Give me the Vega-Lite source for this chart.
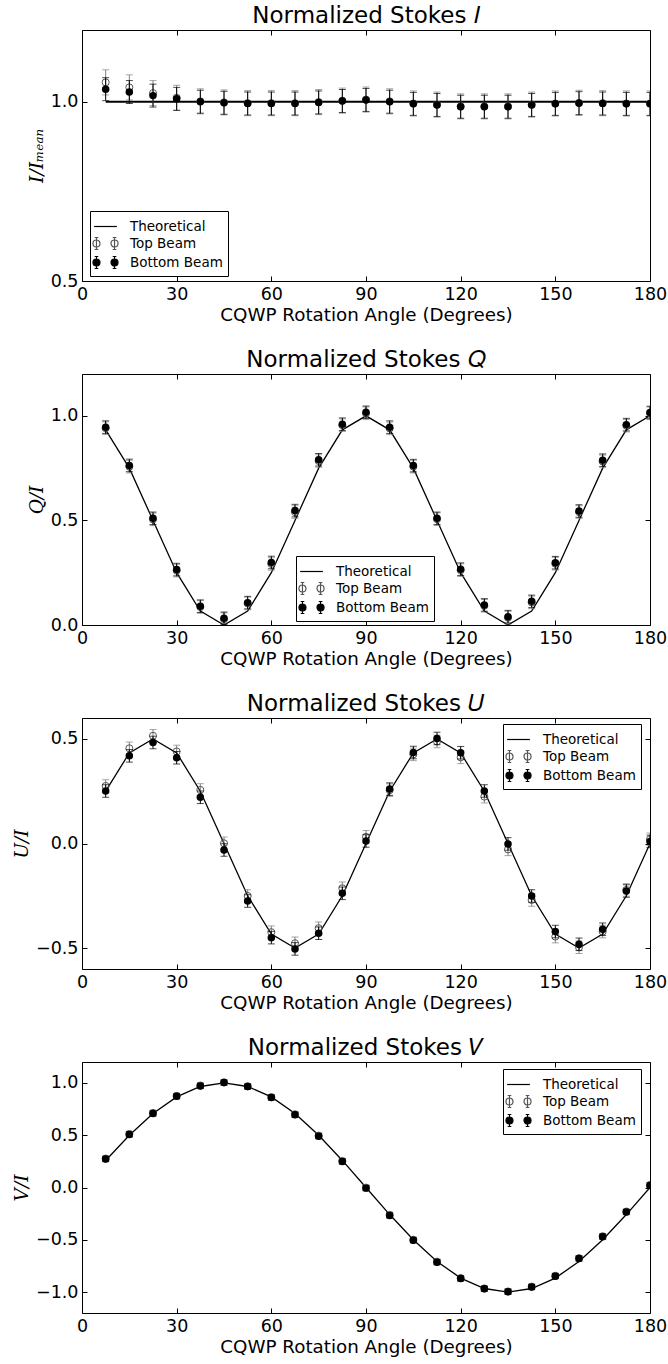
{
  "$schema": "https://vega.github.io/schema/vega-lite/v6.json",
  "padding": {"left": 12, "top": 4, "right": 5, "bottom": 2},
  "background": "white",
  "datasets": {
    "legend": [{"series": "Theoretical"}, {"series": "Top Beam"}, {"series": "Bottom Beam"}],
    "I": [
      {"angle": 7.5, "theory": 1, "top": 1.054, "top_err": 0.035, "bottom": 1.035, "bottom_err": 0.032},
      {"angle": 15, "theory": 1, "top": 1.040, "top_err": 0.035, "bottom": 1.027, "bottom_err": 0.032},
      {"angle": 22.5, "theory": 1, "top": 1.024, "top_err": 0.035, "bottom": 1.017, "bottom_err": 0.032},
      {"angle": 30, "theory": 1, "top": 1.011, "top_err": 0.035, "bottom": 1.008, "bottom_err": 0.032},
      {"angle": 37.5, "theory": 1, "top": 1.001, "top_err": 0.035, "bottom": 1.000, "bottom_err": 0.032},
      {"angle": 45, "theory": 1, "top": 0.998, "top_err": 0.035, "bottom": 0.997, "bottom_err": 0.032},
      {"angle": 52.5, "theory": 1, "top": 0.996, "top_err": 0.035, "bottom": 0.995, "bottom_err": 0.032},
      {"angle": 60, "theory": 1, "top": 0.996, "top_err": 0.035, "bottom": 0.995, "bottom_err": 0.032},
      {"angle": 67.5, "theory": 1, "top": 0.996, "top_err": 0.035, "bottom": 0.995, "bottom_err": 0.032},
      {"angle": 75, "theory": 1, "top": 0.999, "top_err": 0.035, "bottom": 0.998, "bottom_err": 0.032},
      {"angle": 82.5, "theory": 1, "top": 1.003, "top_err": 0.035, "bottom": 1.002, "bottom_err": 0.032},
      {"angle": 90, "theory": 1, "top": 1.006, "top_err": 0.035, "bottom": 1.005, "bottom_err": 0.032},
      {"angle": 97.5, "theory": 1, "top": 1.001, "top_err": 0.035, "bottom": 1.000, "bottom_err": 0.032},
      {"angle": 105, "theory": 1, "top": 0.995, "top_err": 0.035, "bottom": 0.994, "bottom_err": 0.032},
      {"angle": 112.5, "theory": 1, "top": 0.992, "top_err": 0.035, "bottom": 0.991, "bottom_err": 0.032},
      {"angle": 120, "theory": 1, "top": 0.987, "top_err": 0.035, "bottom": 0.986, "bottom_err": 0.032},
      {"angle": 127.5, "theory": 1, "top": 0.987, "top_err": 0.035, "bottom": 0.986, "bottom_err": 0.032},
      {"angle": 135, "theory": 1, "top": 0.987, "top_err": 0.035, "bottom": 0.986, "bottom_err": 0.032},
      {"angle": 142.5, "theory": 1, "top": 0.992, "top_err": 0.035, "bottom": 0.991, "bottom_err": 0.032},
      {"angle": 150, "theory": 1, "top": 0.995, "top_err": 0.035, "bottom": 0.994, "bottom_err": 0.032},
      {"angle": 157.5, "theory": 1, "top": 0.997, "top_err": 0.035, "bottom": 0.996, "bottom_err": 0.032},
      {"angle": 165, "theory": 1, "top": 0.996, "top_err": 0.035, "bottom": 0.995, "bottom_err": 0.032},
      {"angle": 172.5, "theory": 1, "top": 0.995, "top_err": 0.035, "bottom": 0.994, "bottom_err": 0.032},
      {"angle": 180, "theory": 1, "top": 0.995, "top_err": 0.035, "bottom": 0.994, "bottom_err": 0.032}
    ],
    "Q": [
      {"angle": 7.5, "theory": 0.933, "top": 0.941, "top_err": 0.03, "bottom": 0.946, "bottom_err": 0.03},
      {"angle": 15, "theory": 0.75, "top": 0.757, "top_err": 0.03, "bottom": 0.763, "bottom_err": 0.03},
      {"angle": 22.5, "theory": 0.5, "top": 0.505, "top_err": 0.03, "bottom": 0.510, "bottom_err": 0.03},
      {"angle": 30, "theory": 0.25, "top": 0.260, "top_err": 0.03, "bottom": 0.265, "bottom_err": 0.03},
      {"angle": 37.5, "theory": 0.067, "top": 0.086, "top_err": 0.03, "bottom": 0.090, "bottom_err": 0.03},
      {"angle": 45, "theory": 0, "top": 0.028, "top_err": 0.03, "bottom": 0.032, "bottom_err": 0.03},
      {"angle": 52.5, "theory": 0.067, "top": 0.103, "top_err": 0.03, "bottom": 0.107, "bottom_err": 0.03},
      {"angle": 60, "theory": 0.25, "top": 0.292, "top_err": 0.03, "bottom": 0.299, "bottom_err": 0.03},
      {"angle": 67.5, "theory": 0.5, "top": 0.540, "top_err": 0.03, "bottom": 0.547, "bottom_err": 0.03},
      {"angle": 75, "theory": 0.75, "top": 0.784, "top_err": 0.03, "bottom": 0.790, "bottom_err": 0.03},
      {"angle": 82.5, "theory": 0.933, "top": 0.955, "top_err": 0.03, "bottom": 0.960, "bottom_err": 0.03},
      {"angle": 90, "theory": 1, "top": 1.012, "top_err": 0.03, "bottom": 1.017, "bottom_err": 0.03},
      {"angle": 97.5, "theory": 0.933, "top": 0.940, "top_err": 0.03, "bottom": 0.946, "bottom_err": 0.03},
      {"angle": 105, "theory": 0.75, "top": 0.757, "top_err": 0.03, "bottom": 0.762, "bottom_err": 0.03},
      {"angle": 112.5, "theory": 0.5, "top": 0.506, "top_err": 0.03, "bottom": 0.510, "bottom_err": 0.03},
      {"angle": 120, "theory": 0.25, "top": 0.262, "top_err": 0.03, "bottom": 0.267, "bottom_err": 0.03},
      {"angle": 127.5, "theory": 0.067, "top": 0.092, "top_err": 0.03, "bottom": 0.096, "bottom_err": 0.03},
      {"angle": 135, "theory": 0, "top": 0.035, "top_err": 0.03, "bottom": 0.040, "bottom_err": 0.03},
      {"angle": 142.5, "theory": 0.067, "top": 0.108, "top_err": 0.03, "bottom": 0.113, "bottom_err": 0.03},
      {"angle": 150, "theory": 0.25, "top": 0.293, "top_err": 0.03, "bottom": 0.298, "bottom_err": 0.03},
      {"angle": 157.5, "theory": 0.5, "top": 0.540, "top_err": 0.03, "bottom": 0.545, "bottom_err": 0.03},
      {"angle": 165, "theory": 0.75, "top": 0.782, "top_err": 0.03, "bottom": 0.788, "bottom_err": 0.03},
      {"angle": 172.5, "theory": 0.933, "top": 0.953, "top_err": 0.03, "bottom": 0.958, "bottom_err": 0.03},
      {"angle": 180, "theory": 1, "top": 1.012, "top_err": 0.03, "bottom": 1.016, "bottom_err": 0.03}
    ],
    "U": [
      {"angle": 7.5, "theory": 0.25, "top": 0.275, "top_err": 0.03, "bottom": 0.251, "bottom_err": 0.03},
      {"angle": 15, "theory": 0.433, "top": 0.455, "top_err": 0.03, "bottom": 0.419, "bottom_err": 0.03},
      {"angle": 22.5, "theory": 0.5, "top": 0.515, "top_err": 0.03, "bottom": 0.483, "bottom_err": 0.03},
      {"angle": 30, "theory": 0.433, "top": 0.440, "top_err": 0.03, "bottom": 0.410, "bottom_err": 0.03},
      {"angle": 37.5, "theory": 0.25, "top": 0.256, "top_err": 0.03, "bottom": 0.221, "bottom_err": 0.03},
      {"angle": 45, "theory": 0, "top": 0.001, "top_err": 0.03, "bottom": -0.031, "bottom_err": 0.03},
      {"angle": 52.5, "theory": -0.25, "top": -0.251, "top_err": 0.03, "bottom": -0.275, "bottom_err": 0.03},
      {"angle": 60, "theory": -0.433, "top": -0.424, "top_err": 0.03, "bottom": -0.450, "bottom_err": 0.03},
      {"angle": 67.5, "theory": -0.5, "top": -0.477, "top_err": 0.03, "bottom": -0.504, "bottom_err": 0.03},
      {"angle": 75, "theory": -0.433, "top": -0.405, "top_err": 0.03, "bottom": -0.429, "bottom_err": 0.03},
      {"angle": 82.5, "theory": -0.25, "top": -0.214, "top_err": 0.03, "bottom": -0.238, "bottom_err": 0.03},
      {"angle": 90, "theory": 0, "top": 0.032, "top_err": 0.03, "bottom": 0.012, "bottom_err": 0.03},
      {"angle": 97.5, "theory": 0.25, "top": 0.255, "top_err": 0.03, "bottom": 0.260, "bottom_err": 0.03},
      {"angle": 105, "theory": 0.433, "top": 0.426, "top_err": 0.03, "bottom": 0.435, "bottom_err": 0.03},
      {"angle": 112.5, "theory": 0.5, "top": 0.488, "top_err": 0.03, "bottom": 0.502, "bottom_err": 0.03},
      {"angle": 120, "theory": 0.433, "top": 0.412, "top_err": 0.03, "bottom": 0.434, "bottom_err": 0.03},
      {"angle": 127.5, "theory": 0.25, "top": 0.224, "top_err": 0.03, "bottom": 0.251, "bottom_err": 0.03},
      {"angle": 135, "theory": 0, "top": -0.028, "top_err": 0.03, "bottom": -0.002, "bottom_err": 0.03},
      {"angle": 142.5, "theory": -0.25, "top": -0.270, "top_err": 0.03, "bottom": -0.251, "bottom_err": 0.03},
      {"angle": 150, "theory": -0.433, "top": -0.445, "top_err": 0.03, "bottom": -0.421, "bottom_err": 0.03},
      {"angle": 157.5, "theory": -0.5, "top": -0.496, "top_err": 0.03, "bottom": -0.482, "bottom_err": 0.03},
      {"angle": 165, "theory": -0.433, "top": -0.421, "top_err": 0.03, "bottom": -0.410, "bottom_err": 0.03},
      {"angle": 172.5, "theory": -0.25, "top": -0.222, "top_err": 0.03, "bottom": -0.227, "bottom_err": 0.03},
      {"angle": 180, "theory": 0, "top": 0.020, "top_err": 0.03, "bottom": 0.010, "bottom_err": 0.03}
    ],
    "V": [
      {"angle": 7.5, "theory": 0.2588, "top": 0.277, "top_err": 0.025, "bottom": 0.272, "bottom_err": 0.025},
      {"angle": 15, "theory": 0.5, "top": 0.512, "top_err": 0.025, "bottom": 0.507, "bottom_err": 0.025},
      {"angle": 22.5, "theory": 0.7071, "top": 0.713, "top_err": 0.025, "bottom": 0.708, "bottom_err": 0.025},
      {"angle": 30, "theory": 0.866, "top": 0.876, "top_err": 0.025, "bottom": 0.872, "bottom_err": 0.025},
      {"angle": 37.5, "theory": 0.9659, "top": 0.975, "top_err": 0.025, "bottom": 0.971, "bottom_err": 0.025},
      {"angle": 45, "theory": 1, "top": 1.005, "top_err": 0.025, "bottom": 1.003, "bottom_err": 0.025},
      {"angle": 52.5, "theory": 0.9659, "top": 0.968, "top_err": 0.025, "bottom": 0.965, "bottom_err": 0.025},
      {"angle": 60, "theory": 0.866, "top": 0.864, "top_err": 0.025, "bottom": 0.860, "bottom_err": 0.025},
      {"angle": 67.5, "theory": 0.7071, "top": 0.700, "top_err": 0.025, "bottom": 0.695, "bottom_err": 0.025},
      {"angle": 75, "theory": 0.5, "top": 0.496, "top_err": 0.025, "bottom": 0.491, "bottom_err": 0.025},
      {"angle": 82.5, "theory": 0.2588, "top": 0.253, "top_err": 0.025, "bottom": 0.248, "bottom_err": 0.025},
      {"angle": 90, "theory": 0, "top": -0.001, "top_err": 0.025, "bottom": -0.006, "bottom_err": 0.025},
      {"angle": 97.5, "theory": -0.2588, "top": -0.262, "top_err": 0.025, "bottom": -0.267, "bottom_err": 0.025},
      {"angle": 105, "theory": -0.5, "top": -0.500, "top_err": 0.025, "bottom": -0.505, "bottom_err": 0.025},
      {"angle": 112.5, "theory": -0.7071, "top": -0.709, "top_err": 0.025, "bottom": -0.714, "bottom_err": 0.025},
      {"angle": 120, "theory": -0.866, "top": -0.866, "top_err": 0.025, "bottom": -0.870, "bottom_err": 0.025},
      {"angle": 127.5, "theory": -0.9659, "top": -0.965, "top_err": 0.025, "bottom": -0.969, "bottom_err": 0.025},
      {"angle": 135, "theory": -1, "top": -0.994, "top_err": 0.025, "bottom": -0.997, "bottom_err": 0.025},
      {"angle": 142.5, "theory": -0.9659, "top": -0.948, "top_err": 0.025, "bottom": -0.952, "bottom_err": 0.025},
      {"angle": 150, "theory": -0.866, "top": -0.844, "top_err": 0.025, "bottom": -0.848, "bottom_err": 0.025},
      {"angle": 157.5, "theory": -0.7071, "top": -0.676, "top_err": 0.025, "bottom": -0.680, "bottom_err": 0.025},
      {"angle": 165, "theory": -0.5, "top": -0.466, "top_err": 0.025, "bottom": -0.470, "bottom_err": 0.025},
      {"angle": 172.5, "theory": -0.2588, "top": -0.230, "top_err": 0.025, "bottom": -0.235, "bottom_err": 0.025},
      {"angle": 180, "theory": 0, "top": 0.024, "top_err": 0.025, "bottom": 0.020, "bottom_err": 0.025}
    ]
  },
  "columns": 1,
  "align": "none",
  "spacing": 23,
  "resolve": {
    "scale": {"x": "independent", "y": "independent", "shape": "independent", "fill": "independent", "stroke": "independent"},
    "legend": {"shape": "independent", "fill": "independent", "stroke": "independent"}
  },
  "concat": [
    {
      "width": 568, "height": 251,
      "title": {"text": "Normalized Stokes 𝐼"},
      "data": {"name": "I"},
      "resolve": {"axis": {"x": "independent", "y": "independent"}},
      "layer": [
        {"mark": {"type": "line", "color": "black", "strokeWidth": 2, "clip": true},
         "encoding": {
           "x": {"field": "angle", "type": "quantitative", "scale": {"domain": [0, 180], "nice": false}, "axis": {"values": [0, 30, 60, 90, 120, 150, 180], "title": "CQWP Rotation Angle (Degrees)"}},
           "y": {"field": "theory", "type": "quantitative", "scale": {"domain": [0.5, 1.2], "nice": false, "zero": false}, "axis": {"values": [0.5, 1.0], "format": ".1f", "title": "I/Iₘₑₐₙ"}}}},
        {"mark": {"type": "line", "opacity": 0, "clip": true},
         "encoding": {
           "x": {"field": "angle", "type": "quantitative", "scale": {"domain": [0, 180], "nice": false}, "axis": {"orient": "top", "values": [0, 30, 60, 90, 120, 150, 180], "labels": false, "title": null}},
           "y": {"field": "theory", "type": "quantitative", "scale": {"domain": [0.5, 1.2], "nice": false, "zero": false}, "axis": {"orient": "right", "values": [0.5, 1.0], "labels": false, "title": null}}}},
        {"mark": {"type": "errorbar", "ticks": {"size": 7}, "color": "#808080", "clip": true},
         "encoding": {
           "x": {"field": "angle", "type": "quantitative", "scale": {"domain": [0, 180], "nice": false}, "axis": null},
           "y": {"field": "top", "type": "quantitative", "scale": {"domain": [0.5, 1.2], "nice": false, "zero": false}, "axis": null},
           "yError": {"field": "top_err"}}},
        {"mark": {"type": "point", "shape": "circle", "filled": false, "color": "#555555", "strokeWidth": 1, "size": 50, "opacity": 1, "clip": true},
         "encoding": {
           "x": {"field": "angle", "type": "quantitative", "scale": {"domain": [0, 180], "nice": false}, "axis": null},
           "y": {"field": "top", "type": "quantitative", "scale": {"domain": [0.5, 1.2], "nice": false, "zero": false}, "axis": null}}},
        {"mark": {"type": "errorbar", "ticks": {"size": 7}, "color": "black", "clip": true},
         "encoding": {
           "x": {"field": "angle", "type": "quantitative", "scale": {"domain": [0, 180], "nice": false}, "axis": null},
           "y": {"field": "bottom", "type": "quantitative", "scale": {"domain": [0.5, 1.2], "nice": false, "zero": false}, "axis": null},
           "yError": {"field": "bottom_err"}}},
        {"mark": {"type": "point", "shape": "circle", "filled": true, "color": "black", "size": 56, "opacity": 1, "clip": true},
         "encoding": {
           "x": {"field": "angle", "type": "quantitative", "scale": {"domain": [0, 180], "nice": false}, "axis": null},
           "y": {"field": "bottom", "type": "quantitative", "scale": {"domain": [0.5, 1.2], "nice": false, "zero": false}, "axis": null}}},
        {"data": {"name": "legend"},
         "mark": {"type": "point", "opacity": 0, "filled": true},
         "encoding": {
           "shape": {"field": "series", "type": "nominal", "scale": {"domain": ["Theoretical", "Top Beam", "Bottom Beam"], "range": ["M-1.2,0H1.2", "M-0.95,-0.63V0.63M-1.14,-0.63H-0.76M-1.14,0.63H-0.76M0.95,-0.63V0.63M0.76,-0.63H1.14M0.76,0.63H1.14M-0.58,0A0.37,0.37 0 1 1 -1.32,0A0.37,0.37 0 1 1 -0.58,0M1.32,0A0.37,0.37 0 1 1 0.58,0A0.37,0.37 0 1 1 1.32,0", "M-0.95,-0.63V0.63M-1.14,-0.63H-0.76M-1.14,0.63H-0.76M0.95,-0.63V0.63M0.76,-0.63H1.14M0.76,0.63H1.14M-0.58,0A0.37,0.37 0 1 1 -1.32,0A0.37,0.37 0 1 1 -0.58,0M1.32,0A0.37,0.37 0 1 1 0.58,0A0.37,0.37 0 1 1 1.32,0"]},
             "legend": {"title": null, "orient": "none", "legendX": 8, "legendY": 181}},
           "fill": {"field": "series", "type": "nominal", "scale": {"domain": ["Theoretical", "Top Beam", "Bottom Beam"], "range": ["white", "white", "black"]}, "legend": {"title": null, "orient": "none", "legendX": 8, "legendY": 181}},
           "stroke": {"field": "series", "type": "nominal", "scale": {"domain": ["Theoretical", "Top Beam", "Bottom Beam"], "range": ["black", "#555555", "black"]}, "legend": {"title": null, "orient": "none", "legendX": 8, "legendY": 181}}}}
      ]
    },
    {
      "width": 568, "height": 251,
      "title": {"text": "Normalized Stokes 𝑄"},
      "data": {"name": "Q"},
      "resolve": {"axis": {"x": "independent", "y": "independent"}},
      "layer": [
        {"mark": {"type": "line", "color": "black", "strokeWidth": 1.3, "clip": true},
         "encoding": {
           "x": {"field": "angle", "type": "quantitative", "scale": {"domain": [0, 180], "nice": false}, "axis": {"values": [0, 30, 60, 90, 120, 150, 180], "title": "CQWP Rotation Angle (Degrees)"}},
           "y": {"field": "theory", "type": "quantitative", "scale": {"domain": [0, 1.2], "nice": false, "zero": false}, "axis": {"values": [0, 0.5, 1.0], "format": ".1f", "title": "Q/I"}}}},
        {"mark": {"type": "line", "opacity": 0, "clip": true},
         "encoding": {
           "x": {"field": "angle", "type": "quantitative", "scale": {"domain": [0, 180], "nice": false}, "axis": {"orient": "top", "values": [0, 30, 60, 90, 120, 150, 180], "labels": false, "title": null}},
           "y": {"field": "theory", "type": "quantitative", "scale": {"domain": [0, 1.2], "nice": false, "zero": false}, "axis": {"orient": "right", "values": [0, 0.5, 1.0], "labels": false, "title": null}}}},
        {"mark": {"type": "errorbar", "ticks": {"size": 7}, "color": "#808080", "clip": true},
         "encoding": {
           "x": {"field": "angle", "type": "quantitative", "scale": {"domain": [0, 180], "nice": false}, "axis": null},
           "y": {"field": "top", "type": "quantitative", "scale": {"domain": [0, 1.2], "nice": false, "zero": false}, "axis": null},
           "yError": {"field": "top_err"}}},
        {"mark": {"type": "point", "shape": "circle", "filled": false, "color": "#555555", "strokeWidth": 1, "size": 50, "opacity": 1, "clip": true},
         "encoding": {
           "x": {"field": "angle", "type": "quantitative", "scale": {"domain": [0, 180], "nice": false}, "axis": null},
           "y": {"field": "top", "type": "quantitative", "scale": {"domain": [0, 1.2], "nice": false, "zero": false}, "axis": null}}},
        {"mark": {"type": "errorbar", "ticks": {"size": 7}, "color": "black", "clip": true},
         "encoding": {
           "x": {"field": "angle", "type": "quantitative", "scale": {"domain": [0, 180], "nice": false}, "axis": null},
           "y": {"field": "bottom", "type": "quantitative", "scale": {"domain": [0, 1.2], "nice": false, "zero": false}, "axis": null},
           "yError": {"field": "bottom_err"}}},
        {"mark": {"type": "point", "shape": "circle", "filled": true, "color": "black", "size": 56, "opacity": 1, "clip": true},
         "encoding": {
           "x": {"field": "angle", "type": "quantitative", "scale": {"domain": [0, 180], "nice": false}, "axis": null},
           "y": {"field": "bottom", "type": "quantitative", "scale": {"domain": [0, 1.2], "nice": false, "zero": false}, "axis": null}}},
        {"data": {"name": "legend"},
         "mark": {"type": "point", "opacity": 0, "filled": true},
         "encoding": {
           "shape": {"field": "series", "type": "nominal", "scale": {"domain": ["Theoretical", "Top Beam", "Bottom Beam"], "range": ["M-1.2,0H1.2", "M-0.95,-0.63V0.63M-1.14,-0.63H-0.76M-1.14,0.63H-0.76M0.95,-0.63V0.63M0.76,-0.63H1.14M0.76,0.63H1.14M-0.58,0A0.37,0.37 0 1 1 -1.32,0A0.37,0.37 0 1 1 -0.58,0M1.32,0A0.37,0.37 0 1 1 0.58,0A0.37,0.37 0 1 1 1.32,0", "M-0.95,-0.63V0.63M-1.14,-0.63H-0.76M-1.14,0.63H-0.76M0.95,-0.63V0.63M0.76,-0.63H1.14M0.76,0.63H1.14M-0.58,0A0.37,0.37 0 1 1 -1.32,0A0.37,0.37 0 1 1 -0.58,0M1.32,0A0.37,0.37 0 1 1 0.58,0A0.37,0.37 0 1 1 1.32,0"]},
             "legend": {"title": null, "orient": "none", "legendX": 214, "legendY": 182}},
           "fill": {"field": "series", "type": "nominal", "scale": {"domain": ["Theoretical", "Top Beam", "Bottom Beam"], "range": ["white", "white", "black"]}, "legend": {"title": null, "orient": "none", "legendX": 214, "legendY": 182}},
           "stroke": {"field": "series", "type": "nominal", "scale": {"domain": ["Theoretical", "Top Beam", "Bottom Beam"], "range": ["black", "#555555", "black"]}, "legend": {"title": null, "orient": "none", "legendX": 214, "legendY": 182}}}}
      ]
    },
    {
      "width": 568, "height": 251,
      "title": {"text": "Normalized Stokes 𝑈"},
      "data": {"name": "U"},
      "resolve": {"axis": {"x": "independent", "y": "independent"}},
      "layer": [
        {"mark": {"type": "line", "color": "black", "strokeWidth": 1.3, "clip": true},
         "encoding": {
           "x": {"field": "angle", "type": "quantitative", "scale": {"domain": [0, 180], "nice": false}, "axis": {"values": [0, 30, 60, 90, 120, 150, 180], "title": "CQWP Rotation Angle (Degrees)"}},
           "y": {"field": "theory", "type": "quantitative", "scale": {"domain": [-0.6, 0.6], "nice": false, "zero": false}, "axis": {"values": [-0.5, 0, 0.5], "format": ".1f", "title": "U/I"}}}},
        {"mark": {"type": "line", "opacity": 0, "clip": true},
         "encoding": {
           "x": {"field": "angle", "type": "quantitative", "scale": {"domain": [0, 180], "nice": false}, "axis": {"orient": "top", "values": [0, 30, 60, 90, 120, 150, 180], "labels": false, "title": null}},
           "y": {"field": "theory", "type": "quantitative", "scale": {"domain": [-0.6, 0.6], "nice": false, "zero": false}, "axis": {"orient": "right", "values": [-0.5, 0, 0.5], "labels": false, "title": null}}}},
        {"mark": {"type": "errorbar", "ticks": {"size": 7}, "color": "#808080", "clip": true},
         "encoding": {
           "x": {"field": "angle", "type": "quantitative", "scale": {"domain": [0, 180], "nice": false}, "axis": null},
           "y": {"field": "top", "type": "quantitative", "scale": {"domain": [-0.6, 0.6], "nice": false, "zero": false}, "axis": null},
           "yError": {"field": "top_err"}}},
        {"mark": {"type": "point", "shape": "circle", "filled": false, "color": "#555555", "strokeWidth": 1, "size": 50, "opacity": 1, "clip": true},
         "encoding": {
           "x": {"field": "angle", "type": "quantitative", "scale": {"domain": [0, 180], "nice": false}, "axis": null},
           "y": {"field": "top", "type": "quantitative", "scale": {"domain": [-0.6, 0.6], "nice": false, "zero": false}, "axis": null}}},
        {"mark": {"type": "errorbar", "ticks": {"size": 7}, "color": "black", "clip": true},
         "encoding": {
           "x": {"field": "angle", "type": "quantitative", "scale": {"domain": [0, 180], "nice": false}, "axis": null},
           "y": {"field": "bottom", "type": "quantitative", "scale": {"domain": [-0.6, 0.6], "nice": false, "zero": false}, "axis": null},
           "yError": {"field": "bottom_err"}}},
        {"mark": {"type": "point", "shape": "circle", "filled": true, "color": "black", "size": 56, "opacity": 1, "clip": true},
         "encoding": {
           "x": {"field": "angle", "type": "quantitative", "scale": {"domain": [0, 180], "nice": false}, "axis": null},
           "y": {"field": "bottom", "type": "quantitative", "scale": {"domain": [-0.6, 0.6], "nice": false, "zero": false}, "axis": null}}},
        {"data": {"name": "legend"},
         "mark": {"type": "point", "opacity": 0, "filled": true},
         "encoding": {
           "shape": {"field": "series", "type": "nominal", "scale": {"domain": ["Theoretical", "Top Beam", "Bottom Beam"], "range": ["M-1.2,0H1.2", "M-0.95,-0.63V0.63M-1.14,-0.63H-0.76M-1.14,0.63H-0.76M0.95,-0.63V0.63M0.76,-0.63H1.14M0.76,0.63H1.14M-0.58,0A0.37,0.37 0 1 1 -1.32,0A0.37,0.37 0 1 1 -0.58,0M1.32,0A0.37,0.37 0 1 1 0.58,0A0.37,0.37 0 1 1 1.32,0", "M-0.95,-0.63V0.63M-1.14,-0.63H-0.76M-1.14,0.63H-0.76M0.95,-0.63V0.63M0.76,-0.63H1.14M0.76,0.63H1.14M-0.58,0A0.37,0.37 0 1 1 -1.32,0A0.37,0.37 0 1 1 -0.58,0M1.32,0A0.37,0.37 0 1 1 0.58,0A0.37,0.37 0 1 1 1.32,0"]},
             "legend": {"title": null, "orient": "none", "legendX": 421, "legendY": 6}},
           "fill": {"field": "series", "type": "nominal", "scale": {"domain": ["Theoretical", "Top Beam", "Bottom Beam"], "range": ["white", "white", "black"]}, "legend": {"title": null, "orient": "none", "legendX": 421, "legendY": 6}},
           "stroke": {"field": "series", "type": "nominal", "scale": {"domain": ["Theoretical", "Top Beam", "Bottom Beam"], "range": ["black", "#555555", "black"]}, "legend": {"title": null, "orient": "none", "legendX": 421, "legendY": 6}}}}
      ]
    },
    {
      "width": 568, "height": 251,
      "title": {"text": "Normalized Stokes 𝑉"},
      "data": {"name": "V"},
      "resolve": {"axis": {"x": "independent", "y": "independent"}},
      "layer": [
        {"mark": {"type": "line", "color": "black", "strokeWidth": 1.3, "clip": true},
         "encoding": {
           "x": {"field": "angle", "type": "quantitative", "scale": {"domain": [0, 180], "nice": false}, "axis": {"values": [0, 30, 60, 90, 120, 150, 180], "title": "CQWP Rotation Angle (Degrees)"}},
           "y": {"field": "theory", "type": "quantitative", "scale": {"domain": [-1.2, 1.2], "nice": false, "zero": false}, "axis": {"values": [-1, -0.5, 0, 0.5, 1.0], "format": ".1f", "title": "V/I"}}}},
        {"mark": {"type": "line", "opacity": 0, "clip": true},
         "encoding": {
           "x": {"field": "angle", "type": "quantitative", "scale": {"domain": [0, 180], "nice": false}, "axis": {"orient": "top", "values": [0, 30, 60, 90, 120, 150, 180], "labels": false, "title": null}},
           "y": {"field": "theory", "type": "quantitative", "scale": {"domain": [-1.2, 1.2], "nice": false, "zero": false}, "axis": {"orient": "right", "values": [-1, -0.5, 0, 0.5, 1.0], "labels": false, "title": null}}}},
        {"mark": {"type": "errorbar", "ticks": {"size": 7}, "color": "#808080", "clip": true},
         "encoding": {
           "x": {"field": "angle", "type": "quantitative", "scale": {"domain": [0, 180], "nice": false}, "axis": null},
           "y": {"field": "top", "type": "quantitative", "scale": {"domain": [-1.2, 1.2], "nice": false, "zero": false}, "axis": null},
           "yError": {"field": "top_err"}}},
        {"mark": {"type": "point", "shape": "circle", "filled": false, "color": "#555555", "strokeWidth": 1, "size": 50, "opacity": 1, "clip": true},
         "encoding": {
           "x": {"field": "angle", "type": "quantitative", "scale": {"domain": [0, 180], "nice": false}, "axis": null},
           "y": {"field": "top", "type": "quantitative", "scale": {"domain": [-1.2, 1.2], "nice": false, "zero": false}, "axis": null}}},
        {"mark": {"type": "errorbar", "ticks": {"size": 7}, "color": "black", "clip": true},
         "encoding": {
           "x": {"field": "angle", "type": "quantitative", "scale": {"domain": [0, 180], "nice": false}, "axis": null},
           "y": {"field": "bottom", "type": "quantitative", "scale": {"domain": [-1.2, 1.2], "nice": false, "zero": false}, "axis": null},
           "yError": {"field": "bottom_err"}}},
        {"mark": {"type": "point", "shape": "circle", "filled": true, "color": "black", "size": 56, "opacity": 1, "clip": true},
         "encoding": {
           "x": {"field": "angle", "type": "quantitative", "scale": {"domain": [0, 180], "nice": false}, "axis": null},
           "y": {"field": "bottom", "type": "quantitative", "scale": {"domain": [-1.2, 1.2], "nice": false, "zero": false}, "axis": null}}},
        {"data": {"name": "legend"},
         "mark": {"type": "point", "opacity": 0, "filled": true},
         "encoding": {
           "shape": {"field": "series", "type": "nominal", "scale": {"domain": ["Theoretical", "Top Beam", "Bottom Beam"], "range": ["M-1.2,0H1.2", "M-0.95,-0.63V0.63M-1.14,-0.63H-0.76M-1.14,0.63H-0.76M0.95,-0.63V0.63M0.76,-0.63H1.14M0.76,0.63H1.14M-0.58,0A0.37,0.37 0 1 1 -1.32,0A0.37,0.37 0 1 1 -0.58,0M1.32,0A0.37,0.37 0 1 1 0.58,0A0.37,0.37 0 1 1 1.32,0", "M-0.95,-0.63V0.63M-1.14,-0.63H-0.76M-1.14,0.63H-0.76M0.95,-0.63V0.63M0.76,-0.63H1.14M0.76,0.63H1.14M-0.58,0A0.37,0.37 0 1 1 -1.32,0A0.37,0.37 0 1 1 -0.58,0M1.32,0A0.37,0.37 0 1 1 0.58,0A0.37,0.37 0 1 1 1.32,0"]},
             "legend": {"title": null, "orient": "none", "legendX": 421, "legendY": 7}},
           "fill": {"field": "series", "type": "nominal", "scale": {"domain": ["Theoretical", "Top Beam", "Bottom Beam"], "range": ["white", "white", "black"]}, "legend": {"title": null, "orient": "none", "legendX": 421, "legendY": 7}},
           "stroke": {"field": "series", "type": "nominal", "scale": {"domain": ["Theoretical", "Top Beam", "Bottom Beam"], "range": ["black", "#555555", "black"]}, "legend": {"title": null, "orient": "none", "legendX": 421, "legendY": 7}}}}
      ]
    }
  ],
  "config": {
    "font": "DejaVu Sans",
    "view": {"stroke": "black", "strokeWidth": 1},
    "axis": {"grid": false, "domain": false, "tickColor": "black", "tickSize": -5, "tickWidth": 1, "labelPadding": 9, "labelFontSize": 17.5, "labelColor": "black", "labelFont": "DejaVu Sans", "labelFlush": false, "labelOverlap": false, "titleColor": "black", "titleFontWeight": "normal", "titleFontSize": 18.3, "titleFont": "DejaVu Sans"},
    "axisY": {"titleFont": "DejaVu Serif", "titleFontStyle": "italic", "titleFontSize": 18.5},
    "axisX": {"titlePadding": 4},
    "title": {"fontSize": 23, "fontWeight": "normal", "color": "black", "font": "DejaVu Sans", "anchor": "middle", "offset": 2},
    "legend": {"strokeColor": "black", "fillColor": "white", "padding": 5, "cornerRadius": 0, "labelFontSize": 13.5, "labelFont": "DejaVu Sans", "labelColor": "black", "symbolSize": 361, "symbolStrokeWidth": 1.2, "symbolOpacity": 1, "labelOffset": 14, "rowPadding": 0}
  }
}
